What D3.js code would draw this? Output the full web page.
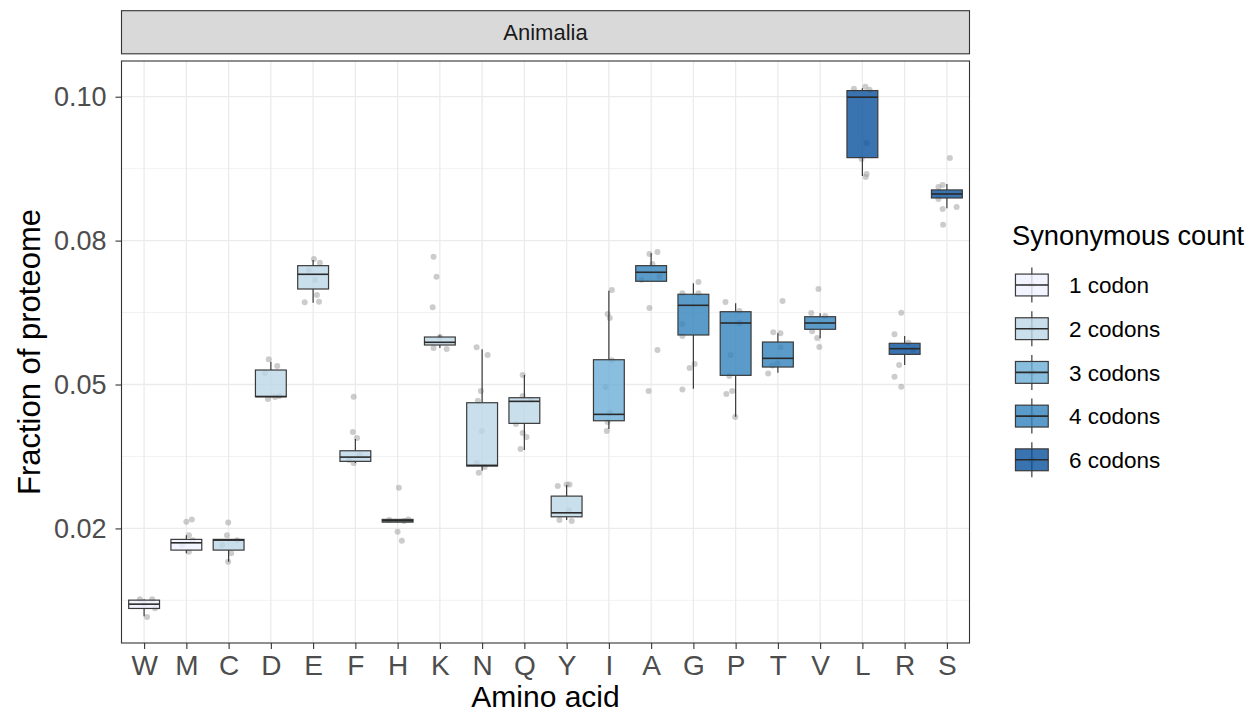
<!DOCTYPE html>
<html>
<head>
<meta charset="utf-8">
<script src="https://cdn.jsdelivr.net/npm/d3@7"></script>
<style>
  html, body { margin: 0; padding: 0; background: #ffffff; }
  svg { display: block; font-family: "Liberation Sans", Arial, Helvetica, sans-serif; }
</style>
</head>
<body>
<svg id="chart" width="1260" height="717"></svg>
<script>
// ---------------- data ----------------
const categories = ["W","M","C","D","E","F","H","K","N","Q","Y","I","A","G","P","T","V","L","R","S"];
const codonGroup = ["1 codon","1 codon","2 codons","2 codons","2 codons","2 codons","2 codons","2 codons","2 codons","2 codons","2 codons",
                    "3 codons","4 codons","4 codons","4 codons","4 codons","4 codons","6 codons","6 codons","6 codons"];
const groups = ["1 codon","2 codons","3 codons","4 codons","6 codons"];
const groupColors = ["#eff3ff","#bdd7e7","#6baed6","#3182bd","#08519c"];

const q1        = [0.00648,0.01743,0.01743,0.04620,0.06642,0.03408,0.02268,0.05591,0.03320,0.04121,0.02368,0.04170,0.06787,0.05779,0.05022,0.05178,0.05886,0.09107,0.05416,0.08350];
const median    = [0.00729,0.01880,0.01930,0.04625,0.06918,0.03488,0.02293,0.05642,0.03333,0.04534,0.02443,0.04290,0.06956,0.06336,0.06004,0.05341,0.06004,0.10241,0.05522,0.08425];
const q3        = [0.00804,0.01944,0.01944,0.05122,0.07080,0.03607,0.02319,0.05741,0.04508,0.04602,0.02756,0.05315,0.07080,0.06543,0.06216,0.05647,0.06122,0.10365,0.05623,0.08501];
const whiskerLo = [0.00504,0.01686,0.01523,0.04610,0.06385,0.03376,0.02262,0.05535,0.03231,0.03620,0.02306,0.04014,0.06787,0.04771,0.04245,0.05071,0.05717,0.08763,0.05216,0.08157];
const whiskerHi = [0.00823,0.02024,0.01944,0.05277,0.07187,0.03826,0.02325,0.05779,0.05510,0.05028,0.02963,0.06610,0.07312,0.06749,0.06374,0.05811,0.06186,0.10410,0.05760,0.08613];

// individual species values: [value, horizontal jitter in category units]
const speciesPoints = [
  [[0.00823,-0.10],[0.00820,0.19],[0.00490,0.07],[0.00650,0.26],[0.00730,0.00]],
  [[0.02274,0.00],[0.02319,0.13],[0.02024,0.06],[0.01711,0.06],[0.01837,-0.10],[0.01930,0.15]],
  [[0.02263,-0.01],[0.02024,-0.04],[0.01686,0.06],[0.01523,-0.01],[0.01930,0.20],[0.01837,-0.15]],
  [[0.05323,-0.05],[0.05197,0.15],[0.05065,-0.14],[0.04577,-0.07],[0.04615,0.10],[0.04634,0.20]],
  [[0.07205,0.02],[0.07136,0.16],[0.06393,-0.20],[0.06404,0.14],[0.06530,0.09],[0.07000,-0.10],[0.06810,0.05]],
  [[0.04620,-0.04],[0.03958,-0.06],[0.03845,0.04],[0.03376,-0.04],[0.03432,-0.15],[0.03526,0.10]],
  [[0.02912,0.03],[0.02086,0.00],[0.01917,0.10],[0.02306,-0.20],[0.02287,0.15],[0.02315,0.25]],
  [[0.07249,-0.15],[0.06873,-0.08],[0.06299,-0.17],[0.05535,-0.15],[0.05516,0.16],[0.05747,0.00]],
  [[0.05548,-0.13],[0.05403,0.13],[0.04727,-0.03],[0.04545,-0.10],[0.03971,-0.01],[0.03194,-0.08],[0.03301,0.06],[0.03376,-0.13]],
  [[0.05028,-0.04],[0.04634,-0.04],[0.04108,-0.20],[0.03939,-0.04],[0.03864,0.05],[0.03639,-0.09],[0.04558,0.15]],
  [[0.02944,-0.21],[0.02976,0.00],[0.02976,0.07],[0.02306,-0.17],[0.02287,0.12],[0.02490,0.05]],
  [[0.06623,0.07],[0.06173,-0.03],[0.06098,0.02],[0.05306,0.07],[0.04803,-0.08],[0.04314,0.02],[0.04146,-0.03],[0.03977,-0.05]],
  [[0.07299,-0.04],[0.07337,0.15],[0.07111,0.03],[0.06815,-0.23],[0.06871,0.20],[0.06286,-0.04],[0.05497,0.15],[0.04727,-0.06]],
  [[0.06774,0.12],[0.06562,-0.26],[0.06562,0.12],[0.05985,-0.26],[0.05760,-0.26],[0.05234,0.03],[0.05159,-0.09],[0.04758,-0.26]],
  [[0.06398,-0.24],[0.06229,0.09],[0.06004,0.09],[0.05403,-0.12],[0.05009,-0.15],[0.04727,-0.08],[0.04671,-0.22],[0.04239,-0.01]],
  [[0.06417,0.11],[0.05832,-0.11],[0.05814,0.06],[0.05551,0.06],[0.05058,-0.23],[0.05209,-0.13],[0.05246,-0.01]],
  [[0.06642,-0.04],[0.06191,-0.21],[0.06135,0.12],[0.05848,-0.19],[0.05724,-0.07],[0.05553,-0.02]],
  [[0.10397,-0.20],[0.10435,0.07],[0.09383,0.10],[0.08801,0.10],[0.08744,0.08],[0.09083,-0.02],[0.10380,0.17]],
  [[0.06197,-0.08],[0.05792,-0.24],[0.05634,0.09],[0.05216,-0.13],[0.04996,-0.24],[0.04808,-0.08],[0.05500,0.20]],
  [[0.09101,0.07],[0.08557,-0.20],[0.08594,-0.10],[0.08331,-0.20],[0.08144,-0.10],[0.07849,-0.09],[0.08181,0.23]]
];

const yBreaks = [0.0215, 0.0485, 0.0755, 0.1025];
const yTickLabels = ["0.02", "0.05", "0.08", "0.10"];
const yDomain = [0.0, 0.1092];

const stripLabel = "Animalia";
const xTitle = "Amino acid";
const yTitle = "Fraction of proteome";
const legendTitle = "Synonymous count";

// ---------------- layout ----------------
const svg = d3.select("#chart");
const P = { left: 121.5, right: 969.5, top: 61, bottom: 643 };
const strip = { top: 10.7, bottom: 53.8 };

const x = d3.scalePoint().domain(categories).range([P.left, P.right]).padding(0.535);
const y = d3.scaleLinear().domain(yDomain).range([P.bottom, P.top]);
const color = d3.scaleOrdinal().domain(groups).range(groupColors);

const step = x.step();
const boxW = step * 0.73;

// minor grid values (midpoints between breaks, plus one beyond)
const bStep = yBreaks[1] - yBreaks[0];
const minorVals = [yBreaks[0] - bStep / 2].concat(yBreaks.map(b => b + bStep / 2))
  .filter(v => v >= yDomain[0] && v <= yDomain[1]);

// panel background
svg.append("rect").attr("x", P.left).attr("y", P.top)
  .attr("width", P.right - P.left).attr("height", P.bottom - P.top).attr("fill", "#ffffff");

const grid = svg.append("g");
grid.selectAll("line.minor").data(minorVals).join("line")
  .attr("x1", P.left).attr("x2", P.right)
  .attr("y1", d => y(d)).attr("y2", d => y(d))
  .attr("stroke", "#f0f0f0").attr("stroke-width", 0.9);
grid.selectAll("line.majY").data(yBreaks).join("line")
  .attr("x1", P.left).attr("x2", P.right)
  .attr("y1", d => y(d)).attr("y2", d => y(d))
  .attr("stroke", "#ebebeb").attr("stroke-width", 1.3);
grid.selectAll("line.majX").data(categories).join("line")
  .attr("x1", d => x(d)).attr("x2", d => x(d))
  .attr("y1", P.top).attr("y2", P.bottom)
  .attr("stroke", "#ebebeb").attr("stroke-width", 1.3);

// points (under boxes)
const ptsData = [];
categories.forEach((c, i) => speciesPoints[i].forEach(p => ptsData.push({ c, v: p[0], j: p[1] })));
svg.append("g").selectAll("circle").data(ptsData).join("circle")
  .attr("cx", d => x(d.c) + d.j * step)
  .attr("cy", d => y(d.v))
  .attr("r", 3)
  .attr("fill", "#9a9a9a").attr("fill-opacity", 0.5);

// boxplots
const stroke = "#3a3a3a";
const boxes = svg.append("g").selectAll("g").data(categories).join("g");
boxes.append("line")
  .attr("x1", d => x(d)).attr("x2", d => x(d))
  .attr("y1", (d, i) => y(q3[i])).attr("y2", (d, i) => y(whiskerHi[i]))
  .attr("stroke", stroke).attr("stroke-width", 1.2);
boxes.append("line")
  .attr("x1", d => x(d)).attr("x2", d => x(d))
  .attr("y1", (d, i) => y(q1[i])).attr("y2", (d, i) => y(whiskerLo[i]))
  .attr("stroke", stroke).attr("stroke-width", 1.2);
boxes.append("rect")
  .attr("x", d => x(d) - boxW / 2).attr("width", boxW)
  .attr("y", (d, i) => y(q3[i]))
  .attr("height", (d, i) => Math.max(1, y(q1[i]) - y(q3[i])))
  .attr("fill", (d, i) => color(codonGroup[i])).attr("fill-opacity", 0.8)
  .attr("stroke", stroke).attr("stroke-width", 1.2);
boxes.append("line")
  .attr("x1", d => x(d) - boxW / 2).attr("x2", d => x(d) + boxW / 2)
  .attr("y1", (d, i) => y(median[i])).attr("y2", (d, i) => y(median[i]))
  .attr("stroke", "#2a2a2a").attr("stroke-width", 1.6);

// panel border
svg.append("rect").attr("x", P.left).attr("y", P.top)
  .attr("width", P.right - P.left).attr("height", P.bottom - P.top)
  .attr("fill", "none").attr("stroke", "#333333").attr("stroke-width", 1.1);

// strip
svg.append("rect").attr("x", P.left).attr("y", strip.top)
  .attr("width", P.right - P.left).attr("height", strip.bottom - strip.top)
  .attr("fill", "#d9d9d9").attr("stroke", "#333333").attr("stroke-width", 1.1);
svg.append("text").attr("x", (P.left + P.right) / 2).attr("y", (strip.top + strip.bottom) / 2)
  .attr("dy", "0.36em").attr("text-anchor", "middle")
  .attr("font-size", 22).attr("fill", "#1a1a1a").text(stripLabel);

// axes
const yAxis = svg.append("g").attr("transform", `translate(${P.left},0)`)
  .call(d3.axisLeft(y).tickValues(yBreaks).tickFormat((d, i) => yTickLabels[i]).tickSize(6).tickPadding(9));
yAxis.select(".domain").remove();
yAxis.selectAll(".tick line").attr("stroke", "#333333").attr("stroke-width", 1.1);
yAxis.selectAll(".tick text").attr("font-size", 27).attr("fill", "#4d4d4d")
  .attr("font-family", "Liberation Sans, Arial, sans-serif");

const xAxis = svg.append("g").attr("transform", `translate(0,${P.bottom})`)
  .call(d3.axisBottom(x).tickSize(6).tickPadding(6));
xAxis.select(".domain").remove();
xAxis.selectAll(".tick line").attr("stroke", "#333333").attr("stroke-width", 1.1);
xAxis.selectAll(".tick text").attr("font-size", 28).attr("fill", "#4d4d4d")
  .attr("font-family", "Liberation Sans, Arial, sans-serif");

// axis titles
svg.append("text").attr("x", (P.left + P.right) / 2).attr("y", 707)
  .attr("text-anchor", "middle").attr("font-size", 30).attr("fill", "#000").text(xTitle);
svg.append("text")
  .attr("transform", `translate(40,${(P.top + P.bottom) / 2}) rotate(-90)`)
  .attr("text-anchor", "middle").attr("font-size", 31).attr("fill", "#000").text(yTitle);

// legend
const L = { x: 1010, titleY: 245, firstY: 285, rowH: 43.7, keyW: 43.7 };
svg.append("text").attr("x", 1012).attr("y", L.titleY)
  .attr("font-size", 27.3).attr("fill", "#000").text(legendTitle);
const items = svg.append("g").selectAll("g").data(groups).join("g")
  .attr("transform", (d, i) => `translate(${L.x},${L.firstY + i * L.rowH})`);
const kh = L.rowH, kw = L.keyW;
items.append("line").attr("x1", kw / 2).attr("x2", kw / 2)
  .attr("y1", -kh / 2 + 0.1 * kh).attr("y2", kh / 2 - 0.1 * kh)
  .attr("stroke", stroke).attr("stroke-width", 1.2);
items.append("circle").attr("cx", kw / 2).attr("cy", 0).attr("r", 3)
  .attr("fill", "#9a9a9a").attr("fill-opacity", 0.5);
items.append("rect").attr("x", 0.125 * kw).attr("width", 0.75 * kw)
  .attr("y", -0.25 * kh).attr("height", 0.5 * kh)
  .attr("fill", d => color(d)).attr("fill-opacity", 0.8)
  .attr("stroke", stroke).attr("stroke-width", 1.2);
items.append("line").attr("x1", 0.125 * kw).attr("x2", 0.875 * kw)
  .attr("y1", 0).attr("y2", 0).attr("stroke", "#2a2a2a").attr("stroke-width", 1.6);
items.append("text").attr("x", 59).attr("y", 0).attr("dy", "0.36em")
  .attr("font-size", 22.5).attr("fill", "#000").text(d => d);
</script>
</body>
</html>
